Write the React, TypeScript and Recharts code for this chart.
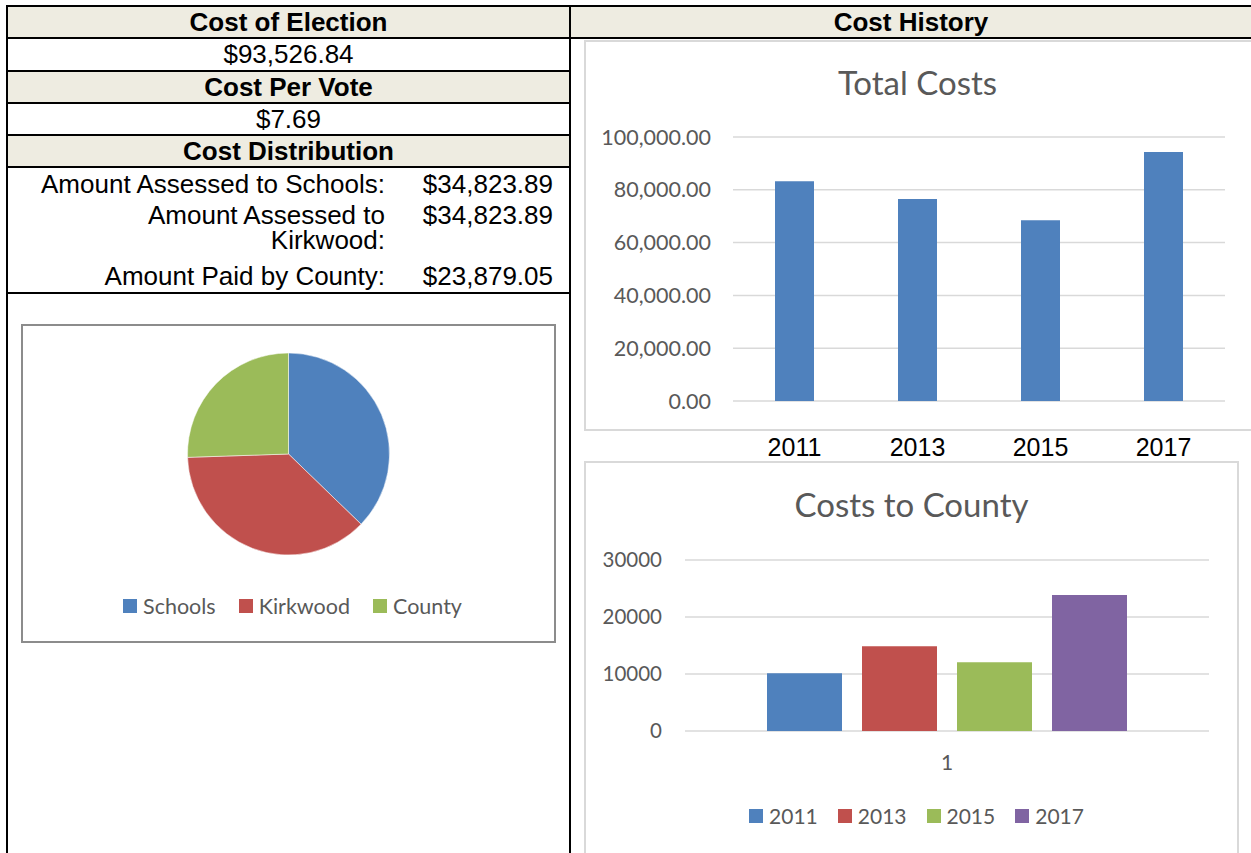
import React from 'react';
import { BarChart, Bar, XAxis, YAxis, CartesianGrid, PieChart, Pie, Cell, Legend } from 'recharts';

// ---------- data ----------
const years = ['2011', '2013', '2015', '2017'];
const totalCosts = [83200, 76500, 68500, 94300];
const totalTicks = [0, 20000, 40000, 60000, 80000, 100000];

const countyCategory = ['1'];
const countyCosts = [10140, 14890, 12070, 23879.05];
const countyTicks = [0, 10000, 20000, 30000];

const pieLabels = ['Schools', 'Kirkwood', 'County'];
const pieValues = [34823.89, 34823.89, 23879.05];

const palette = ['#4F81BD', '#C0504D', '#9BBB59', '#8064A2'];

const summaryHeaders = ['Cost of Election', 'Cost Per Vote', 'Cost Distribution'];
const summaryValues = ['$93,526.84', '$7.69'];
const distLabels = ['Amount Assessed to Schools:', 'Amount Assessed to Kirkwood:', 'Amount Paid by County:'];
const distValues = ['$34,823.89', '$34,823.89', '$23,879.05'];

// ---------- derived tables ----------
const totalData = years.map((y, i) => ({ year: y, cost: totalCosts[i] }));
const countyData = countyCategory.map((c) => {
  const row: any = { name: c };
  years.forEach((y, i) => (row['y' + y] = countyCosts[i]));
  return row;
});
const pieData = pieLabels.map((n, i) => ({ name: n, value: pieValues[i] }));

const CHART_FONT = 'Lato, "Open Sans", sans-serif';
const TABLE_FONT = '"Liberation Sans", Arial, sans-serif';
const GREY_TEXT = '#595959';
const GRID = '#D9D9D9';
const HEADER_BG = '#EEECE1';
const TABLE_SIZE = 26;

const fmt2 = (v: number) =>
  v.toLocaleString('en-US', { minimumFractionDigits: 2, maximumFractionDigits: 2 });

const makeTick = (offset: number, size: number, color: string, family: string) => (props: any) => {
  const { x, y, payload } = props;
  return (
    <text x={x} y={y + offset} textAnchor="middle" dominantBaseline="central" fontSize={size} fill={color} fontFamily={family}>
      {payload.value}
    </text>
  );
};

const makeLegend = (order: string[], gap: number, fontSize: number, shift: number) => (props: any) => {
  const items = [...(props.payload || [])].sort(
    (a: any, b: any) => order.indexOf(String(a.value)) - order.indexOf(String(b.value))
  );
  return (
    <div style={{ display: 'flex', justifyContent: 'center', alignItems: 'center', fontFamily: CHART_FONT, fontSize, color: GREY_TEXT, lineHeight: '24px', paddingLeft: shift }}>
      {items.map((p: any, i: number) => (
        <div key={i} style={{ display: 'flex', alignItems: 'center', marginLeft: i === 0 ? 0 : gap }}>
          <span style={{ display: 'inline-block', width: 14, height: 14, background: palette[order.indexOf(String(p.value))], marginRight: 6 }} />
          <span>{p.value}</span>
        </div>
      ))}
    </div>
  );
};

const HLine = ({ y, x1, x2 }: { y: number; x1: number; x2: number }) => (
  <div style={{ position: 'absolute', left: x1, top: y, width: x2 - x1, height: 2, background: '#000' }} />
);
const VLine = ({ x, y1, y2 }: { x: number; y1: number; y2: number }) => (
  <div style={{ position: 'absolute', left: x, top: y1, width: 2, height: y2 - y1, background: '#000' }} />
);

const TCell = ({ top, height, left, width, text, bold, bg }: any) => (
  <div
    style={{
      position: 'absolute', left, top, width, height, background: bg || 'transparent',
      textAlign: 'center', lineHeight: height + 'px', fontFamily: TABLE_FONT, fontSize: TABLE_SIZE,
      fontWeight: bold ? 'bold' : 'normal', color: '#000', whiteSpace: 'nowrap',
    }}
  >
    {text}
  </div>
);

export default function App() {
  const L = 8, R = 569;
  const distRows = [
    { y: 184, wrapW: 377 },
    { y: 215, wrapW: 262 },
    { y: 276, wrapW: 377 },
  ];
  return (
    <div style={{ position: 'absolute', left: 0, top: 0, width: 1251, height: 853, overflow: 'hidden', background: '#fff' }}>
      {/* left summary table */}
      <TCell left={L} width={R - L} top={7} height={30} text={summaryHeaders[0]} bold bg={HEADER_BG} />
      <TCell left={L} width={R - L} top={39} height={31} text={summaryValues[0]} />
      <TCell left={L} width={R - L} top={72} height={30} text={summaryHeaders[1]} bold bg={HEADER_BG} />
      <TCell left={L} width={R - L} top={104} height={30} text={summaryValues[1]} />
      <TCell left={L} width={R - L} top={136} height={30} text={summaryHeaders[2]} bold bg={HEADER_BG} />
      <TCell left={571} width={680} top={7} height={30} text="Cost History" bold bg={HEADER_BG} />

      {/* distribution rows */}
      {distRows.map((r, i) => (
        <React.Fragment key={i}>
          <div style={{ position: 'absolute', left: 385 - r.wrapW, top: r.y - 12.5, width: r.wrapW, textAlign: 'right', fontFamily: TABLE_FONT, fontSize: TABLE_SIZE, lineHeight: '25px' }}>
            {distLabels[i]}
          </div>
          <div style={{ position: 'absolute', left: 380, top: r.y - 12.5, width: 173, height: 25, lineHeight: '25px', textAlign: 'right', fontFamily: TABLE_FONT, fontSize: TABLE_SIZE, whiteSpace: 'nowrap' }}>
            {distValues[i]}
          </div>
        </React.Fragment>
      ))}

      {/* table lines */}
      <HLine y={5} x1={6} x2={1251} />
      <HLine y={37} x1={6} x2={1251} />
      <HLine y={70} x1={6} x2={571} />
      <HLine y={102} x1={6} x2={571} />
      <HLine y={134} x1={6} x2={571} />
      <HLine y={166} x1={6} x2={571} />
      <HLine y={292} x1={6} x2={571} />
      <VLine x={6} y1={5} y2={853} />
      <VLine x={569} y1={5} y2={853} />

      {/* pie chart box */}
      <div style={{ position: 'absolute', left: 21, top: 324, width: 535, height: 319, border: '2px solid #8C8C8C', boxSizing: 'border-box' }} />
      <div style={{ position: 'absolute', left: 21, top: 324 }}>
        <PieChart width={535} height={319} margin={{ top: 0, right: 0, bottom: 0, left: 0 }}>
          <Pie
            data={pieData}
            dataKey="value"
            nameKey="name"
            cx={267.5}
            cy={130}
            outerRadius={101}
            startAngle={90}
            endAngle={-270}
            stroke="#fff"
            strokeWidth={0.5}
            isAnimationActive={false}
          >
            {pieData.map((_, i) => (
              <Cell key={i} fill={palette[i]} />
            ))}
          </Pie>
          <Legend
            layout="horizontal"
            verticalAlign="middle"
            align="center"
            wrapperStyle={{ left: 0, top: 270, width: 535 }}
            content={makeLegend(pieLabels, 23, 21.5, 8)}
          />
        </PieChart>
      </div>

      {/* Total Costs chart */}
      <div style={{ position: 'absolute', left: 584, top: 40, width: 700, height: 391, border: '2px solid ' + GRID, boxSizing: 'border-box' }} />
      <div style={{ position: 'absolute', left: 584, top: 62, width: 667, textAlign: 'center', fontFamily: CHART_FONT, fontSize: 33, color: GREY_TEXT, lineHeight: '40px', paddingLeft: 0 }}>
        Total Costs
      </div>
      <div style={{ position: 'absolute', left: 584, top: 40 }}>
        <BarChart width={667} height={430} data={totalData} margin={{ top: 97, right: 26, bottom: 39, left: 0 }} barSize={39}>
          <CartesianGrid vertical={false} stroke={GRID} strokeWidth={1.5} />
          <XAxis dataKey="year" axisLine={false} tickLine={false} height={30} interval={0}
            tick={makeTick(38, 25, '#000', TABLE_FONT)} />
          <YAxis width={149} domain={[0, 100000]} ticks={totalTicks} axisLine={false} tickLine={false}
            tickMargin={16} tickFormatter={fmt2}
            tick={{ fill: GREY_TEXT, fontSize: 21.5, fontFamily: CHART_FONT }} />
          <Bar dataKey="cost" fill={palette[0]} isAnimationActive={false} />
        </BarChart>
      </div>

      {/* Costs to County chart */}
      <div style={{ position: 'absolute', left: 584, top: 461, width: 655, height: 420, border: '2px solid ' + GRID, boxSizing: 'border-box' }} />
      <div style={{ position: 'absolute', left: 584, top: 484, width: 655, textAlign: 'center', fontFamily: CHART_FONT, fontSize: 33, color: GREY_TEXT, lineHeight: '40px', paddingLeft: 0 }}>
        Costs to County
      </div>
      <div style={{ position: 'absolute', left: 584, top: 461 }}>
        <BarChart width={655} height={392} data={countyData} margin={{ top: 99, right: 30, bottom: 92, left: 0 }}
          barCategoryGap={82} barGap={20}>
          <CartesianGrid vertical={false} stroke={GRID} strokeWidth={1.5} />
          <XAxis dataKey="name" axisLine={false} tickLine={false} height={30}
            tick={makeTick(22, 21, GREY_TEXT, CHART_FONT)} />
          <YAxis width={101} domain={[0, 30000]} ticks={countyTicks} axisLine={false} tickLine={false}
            tickMargin={17} tick={{ fill: GREY_TEXT, fontSize: 20.5, fontFamily: CHART_FONT }} />
          {years.map((y, i) => (
            <Bar key={y} dataKey={'y' + y} name={y} fill={palette[i]} isAnimationActive={false} />
          ))}
          <Legend
            layout="horizontal"
            verticalAlign="middle"
            align="center"
            wrapperStyle={{ left: 0, top: 343, width: 655 }}
            content={makeLegend(years, 20, 21, 10)}
          />
        </BarChart>
      </div>
    </div>
  );
}
